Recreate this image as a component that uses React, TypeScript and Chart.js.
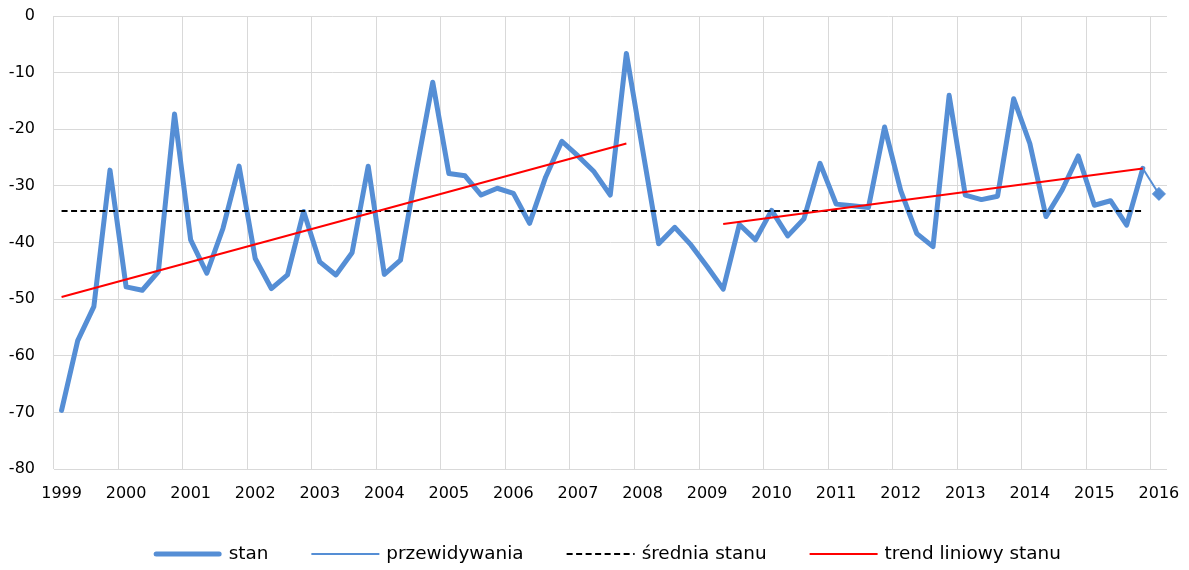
import React, { useEffect, useRef } from "react";
import { Chart, registerables } from "chart.js";

Chart.register(...registerables);

// ---- data ----
const years: number[] = [1999, 2000, 2001, 2002, 2003, 2004, 2005, 2006, 2007, 2008, 2009, 2010, 2011, 2012, 2013, 2014, 2015, 2016];
const quartersPerYear = ["I", "II", "III", "IV"];
const yTicks = { min: -80, max: 0, step: 10 };

// "stan" quarterly values, 1999 Q1 .. 2015 Q4
const stan: number[] = [
  -69.6, -57.3, -51.3, -27.2,
  -47.8, -48.4, -45.1, -17.3,
  -39.5, -45.4, -37.5, -26.5,
  -42.8, -48.1, -45.7, -34.5,
  -43.4, -45.7, -41.8, -26.5,
  -45.6, -43.1, -27.0, -11.7,
  -27.8, -28.2, -31.6, -30.4,
  -31.3, -36.6, -28.4, -22.1,
  -24.7, -27.5, -31.6, -6.6,
  -23.5, -40.2, -37.3, -40.4,
  -44.2, -48.2, -36.8, -39.5,
  -34.3, -38.8, -35.8, -26.0,
  -33.2, -33.5, -33.8, -19.6,
  -30.8, -38.4, -40.7, -14.0,
  -31.6, -32.4, -31.8, -14.6,
  -22.5, -35.4, -30.7, -24.7,
  -33.4, -32.6, -36.9, -26.9,
];
// "przewidywania": 2015 Q4 (joins last "stan") and 2016 Q1
const przewidywania: number[] = [-26.9, -31.4];
const sredniaStanu = -34.4;
// linear trend segments
const trendStartIdx: number[] = [0, 41];
const trendEndIdx: number[] = [35, 67];
const trendStartVal: number[] = [-49.6, -36.7];
const trendEndVal: number[] = [-22.5, -26.9];

const BLUE = "#558ED5";
const RED = "#FF0000";
const FONT = "'DejaVu Sans', Verdana, sans-serif";

// ---- derived tables ----
const categories: string[] = [];
const categoryYear: string[] = [];
years.forEach((y, yi) => {
  const nq = yi === years.length - 1 ? 1 : 4;
  for (let q = 0; q < nq; q++) {
    categories.push(`${y} ${quartersPerYear[q]}`);
    categoryYear.push(String(y));
  }
});
const N = categories.length;

const stanData = categories.map((_, i) => (i < stan.length ? stan[i] : null));
const przewData = categories.map((_, i) => {
  const k = i - (N - przewidywania.length);
  return k >= 0 ? przewidywania[k] : null;
});
const meanData = categories.map((_, i) => (i < stan.length ? sredniaStanu : null));
const trendSets = trendStartIdx.map((s, k) => {
  const arr: (number | null)[] = categories.map(() => null);
  arr[s] = trendStartVal[k];
  arr[trendEndIdx[k]] = trendEndVal[k];
  return arr;
});

const legendItems = [
  { text: "stan", color: BLUE, width: 5, dash: [] as number[], cap: "round" as CanvasLineCap },
  { text: "przewidywania", color: BLUE, width: 2, dash: [] as number[], cap: "butt" as CanvasLineCap },
  { text: "średnia stanu", color: "#000000", width: 2, dash: [6, 3.5], cap: "butt" as CanvasLineCap },
  { text: "trend liniowy stanu", color: RED, width: 2, dash: [] as number[], cap: "butt" as CanvasLineCap },
];

const legendPlugin = {
  id: "customLegend",
  afterDraw(chart: any) {
    const ctx = chart.ctx as CanvasRenderingContext2D;
    const area = chart.chartArea;
    const boxW = 68;
    const gapText = 7;
    const gapItem = 43;
    ctx.save();
    ctx.font = `18.4px ${FONT}`;
    const widths = legendItems.map((it) => ctx.measureText(it.text).width);
    const total =
      widths.reduce((a, w) => a + boxW + gapText + w, 0) + gapItem * (legendItems.length - 1);
    let x = (area.left + area.right) / 2 - 3 - total / 2;
    const y = chart.height - 16;
    legendItems.forEach((it, k) => {
      ctx.beginPath();
      ctx.strokeStyle = it.color;
      ctx.lineWidth = it.width;
      ctx.lineCap = it.cap;
      ctx.setLineDash(it.dash);
      const inset = it.cap === "round" ? it.width / 2 : 0;
      ctx.moveTo(x + inset, y);
      ctx.lineTo(x + boxW - inset, y);
      ctx.stroke();
      ctx.setLineDash([]);
      ctx.fillStyle = "#000";
      ctx.textBaseline = "middle";
      ctx.textAlign = "left";
      ctx.fillText(it.text, x + boxW + gapText, y);
      x += boxW + gapText + widths[k] + gapItem;
    });
    ctx.restore();
  },
};

export default function App() {
  const ref = useRef<HTMLCanvasElement | null>(null);

  useEffect(() => {
    if (!ref.current) return;
    Chart.defaults.font.family = FONT;
    const trendDatasets = trendSets.map((d, k) => ({
      label: k === 0 ? "trend liniowy stanu" : "trend liniowy stanu (2)",
      data: d,
      borderColor: RED,
      backgroundColor: RED,
      borderWidth: 2,
      pointRadius: 0,
      spanGaps: true,
      tension: 0,
      order: 0,
    }));
    const chart = new Chart(ref.current, {
      type: "line",
      data: {
        labels: categories,
        datasets: [
          {
            label: "stan",
            data: stanData,
            borderColor: BLUE,
            backgroundColor: BLUE,
            borderWidth: 5,
            borderCapStyle: "round",
            borderJoinStyle: "round",
            pointRadius: 0,
            pointHoverRadius: 0,
            tension: 0,
            order: 3,
          },
          {
            label: "przewidywania",
            data: przewData,
            borderColor: BLUE,
            backgroundColor: BLUE,
            borderWidth: 2,
            pointStyle: "rectRot",
            pointRadius: (c: any) => (c.dataIndex === N - 1 ? 6.5 : 0),
            pointBorderWidth: 1,
            pointBackgroundColor: BLUE,
            pointBorderColor: BLUE,
            tension: 0,
            order: 2,
          },
          {
            label: "średnia stanu",
            data: meanData,
            borderColor: "#000000",
            borderWidth: 2,
            borderDash: [6, 3.5],
            pointRadius: 0,
            tension: 0,
            order: 1,
          },
          ...trendDatasets,
        ],
      },
      options: {
        animation: false,
        responsive: true,
        maintainAspectRatio: false,
        layout: { padding: { left: 0, right: 14, top: 0, bottom: 65.7 } },
        plugins: {
          legend: { display: false },
          tooltip: { enabled: false },
          title: { display: false },
        },
        scales: {
          x: {
            type: "category",
            offset: true,
            grid: {
              offset: true,
              drawTicks: false,
              lineWidth: 1,
              color: (c: any) => (c.index % 4 === 0 ? "#D9D9D9" : "rgba(0,0,0,0)"),
            },
            border: { display: false },
            ticks: {
              autoSkip: false,
              maxRotation: 0,
              minRotation: 0,
              padding: 15,
              color: "#000",
              font: { family: FONT, size: 16 },
              callback: (_v: any, i: number) => (i % 4 === 0 ? categoryYear[i] : ""),
            },
            afterFit: (s: any) => {
              s.height = 35;
              s.paddingLeft = 0;
              s.paddingRight = 0;
            },
          },
          y: {
            min: yTicks.min,
            max: yTicks.max,
            grid: { color: "#D9D9D9", lineWidth: 1, drawTicks: false },
            border: { display: false },
            ticks: {
              stepSize: yTicks.step,
              padding: 18.5,
              color: "#000",
              font: { family: FONT, size: 16, lineHeight: 1 },
            },
            afterFit: (s: any) => {
              s.width = 45.5;
              s.paddingTop = 8;
              s.paddingBottom = 0;
            },
          },
        },
      },
      plugins: [legendPlugin],
    } as any);
    return () => chart.destroy();
  }, []);

  return (
    <div style={{ position: "relative", width: 1173, height: 562 }}>
      <canvas ref={ref} />
    </div>
  );
}
